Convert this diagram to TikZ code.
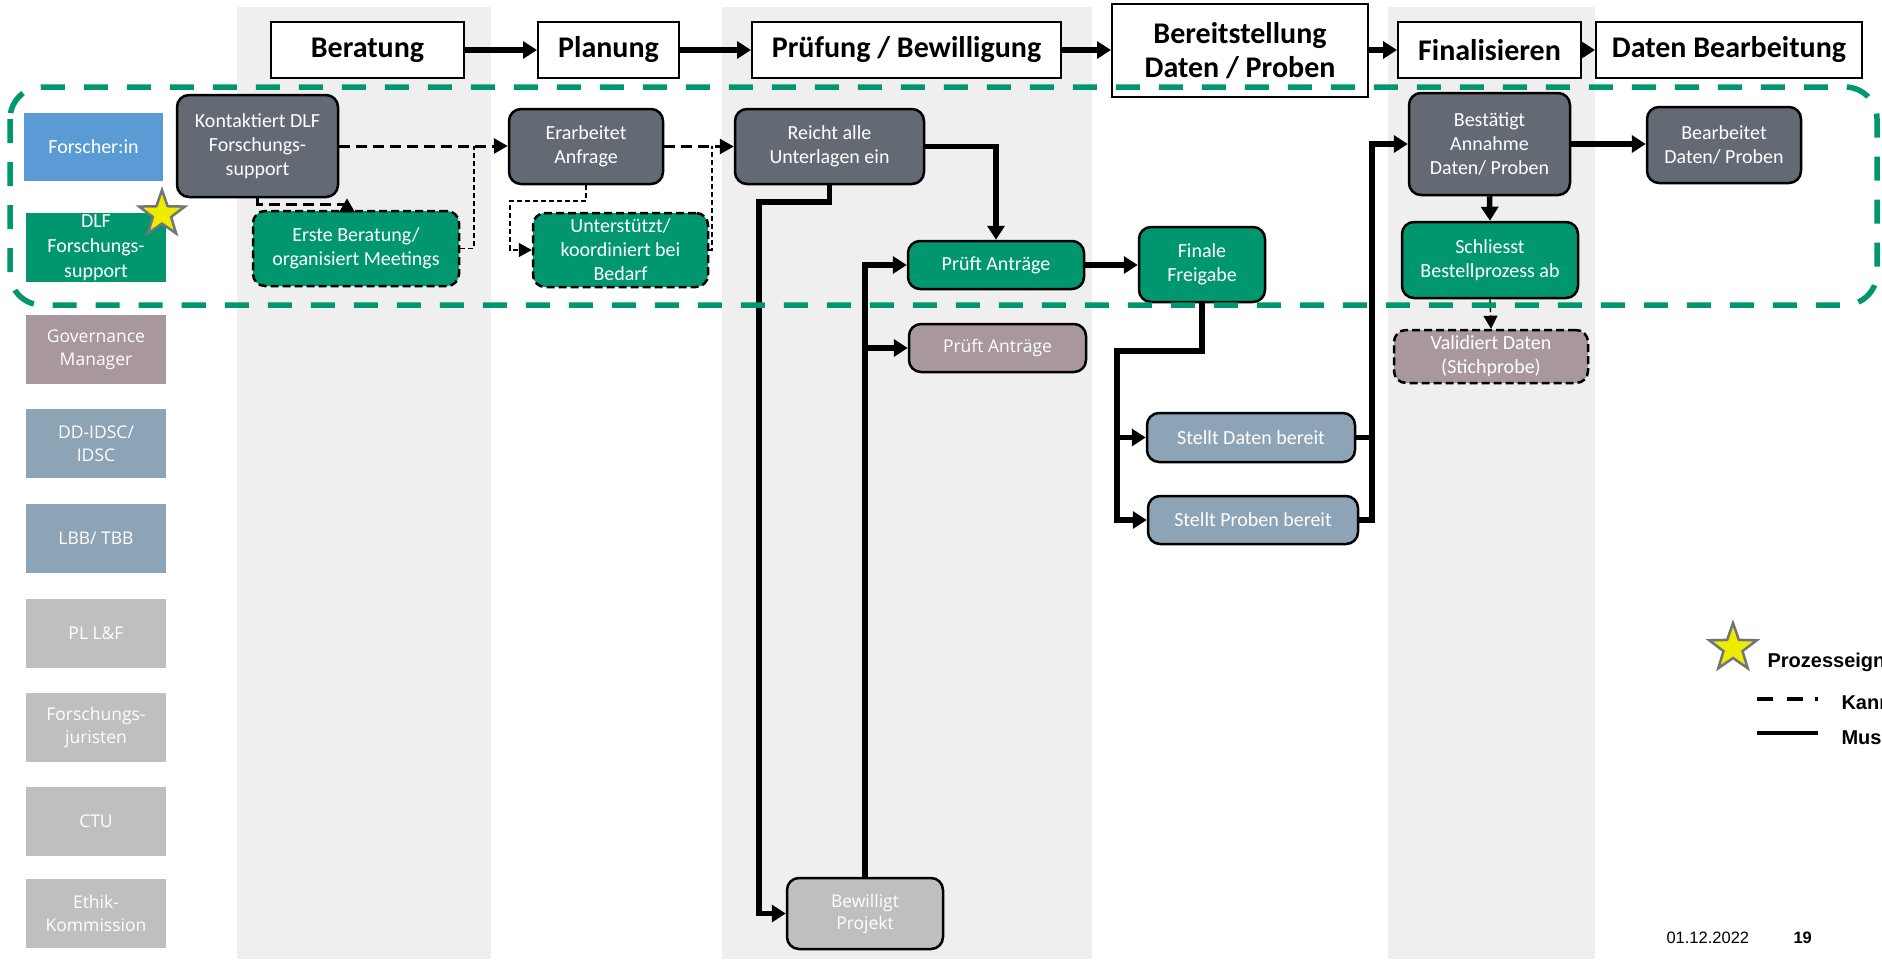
\documentclass[tikz,border=0pt]{standalone}
\usepackage{fontspec}
\setmainfont{Carlito}
\newfontfamily\osans{Open Sans}
\newfontfamily\arialf{Liberation Sans}
\usetikzlibrary{arrows.meta,shapes.geometric,calc}
\definecolor{dkbox}{HTML}{646A73}
\definecolor{dlfgreen}{HTML}{00966E}
\definecolor{mauve}{HTML}{A8979F}
\definecolor{bluegray}{HTML}{8DA3B6}
\definecolor{ltgray}{HTML}{BFBFBF}
\definecolor{fblue}{HTML}{5B9BD5}
\definecolor{colgray}{HTML}{EFEFEF}
\definecolor{staryellow}{HTML}{EEEA00}
\definecolor{starborder}{HTML}{6E757C}
\begin{document}
\begin{tikzpicture}[x=1pt,y=-1pt,
  proc/.style={draw=black, line width=2.5pt, rounded corners=12pt, text=white, align=center, inner sep=0pt, font=\fontsize{20}{24}\selectfont},
  procos/.style={proc, font=\osans\fontsize{17.5}{22}\selectfont},
  dashbox/.style={dash pattern=on 8pt off 4pt},
  lane/.style={inner sep=0pt, text=white, align=center, minimum width=140pt, minimum height=69pt, font=\osans\fontsize{17.5}{23}\selectfont},
  lanecal/.style={lane, font=\fontsize{20}{25}\selectfont},
  hdr/.style={draw=black, line width=2pt, fill=white, align=center, inner sep=0pt, font=\bfseries\fontsize{30}{34}\selectfont},
  must/.style={line width=5.5pt, -{Triangle[length=14pt,width=17pt]}},
  mustline/.style={line width=5.5pt},
  kann/.style={line width=3pt, dash pattern=on 11pt off 6pt, -{Triangle[length=14pt,width=15pt]}},
  thindash/.style={line width=1.3pt, dash pattern=on 5pt off 3pt},
  thinarrow/.style={thindash, -{Triangle[length=13pt,width=14pt]}},
  starnode/.style={star, star points=5, star point ratio=2.5, inner sep=0pt, fill=staryellow, draw=starborder, line width=2.5pt},
  legtext/.style={anchor=base west, font=\arialf\bfseries\fontsize{20}{24}\selectfont}
]
\useasboundingbox (0,0) rectangle (1882,959);
\clip (0,0) rectangle (1882,959);
\fill[white] (0,0) rectangle (1882,959);
% phase columns
\fill[colgray] (237,7) rectangle (491,959);
\fill[colgray] (722,7) rectangle (1092,959);
\fill[colgray] (1388,7) rectangle (1595,959);

% lanes
\node[lanecal, fill=fblue, minimum width=139pt, minimum height=68pt] (lForsch) at (93.5,147) {Forscher:in};
\node[lanecal, fill=dlfgreen] (lDLF) at (96,247.5) {DLF\\Forschungs-\\support};
\node[lane, fill=mauve] (lGov) at (96,349.5) {Governance\\Manager};
\node[lane, fill=bluegray] (lDD) at (96,443.5) {DD-IDSC/\\IDSC};
\node[lane, fill=bluegray] (lLBB) at (96,538.5) {LBB/ TBB};
\node[lane, fill=ltgray] (lPL) at (96,633.5) {PL L\&F};
\node[lane, fill=ltgray] (lFJ) at (96,727) {Forschungs-\\juristen};
\node[lane, fill=ltgray] (lCTU) at (96,821) {CTU};
\node[lane, fill=ltgray] (lEthik) at (96,913.5) {Ethik-\\Kommission};
\node[starnode, minimum size=48pt] (star1) at (162,214) {};

% headers
\node[hdr, minimum width=193pt, minimum height=56pt] (hBer) at (367.5,50) {Beratung};
\node[hdr, minimum width=141pt, minimum height=56pt] (hPlan) at (608.5,50) {Planung};
\node[hdr, minimum width=309pt, minimum height=56pt] (hPruef) at (906.5,50) {Prüfung / Bewilligung};
\node[hdr, minimum width=256pt, minimum height=93pt] (hBereit) at (1240,50.5) {Bereitstellung\\Daten / Proben};
\node[hdr, minimum width=183pt, minimum height=56pt] (hFinal) at (1489.5,50) {Finalisieren};
\node[hdr, minimum width=266pt, minimum height=56pt] (hDaten) at (1729,50) {Daten Bearbeitung};

\draw[must] (hBer.east) -- (hPlan.west);
\draw[must] (hPlan.east) -- (hPruef.west);
\draw[must] (hPruef.east) -- (hPruef.east -| hBereit.west);
\draw[must] (hBereit.east |- hFinal.west) -- (hFinal.west);
\draw[must] (hFinal.east) -- (hDaten.west);

% process boxes
\node[proc, fill=dkbox, minimum width=161pt, minimum height=102pt] (kont) at (257.5,146) {Kontaktiert DLF\\Forschungs-\\support};
\node[proc, dashbox, fill=dlfgreen, minimum width=206pt, minimum height=75pt] (erste) at (356,248.5) {Erste Beratung/\\organisiert Meetings};
\node[proc, fill=dkbox, minimum width=154pt, minimum height=75pt] (erarb) at (586,146.5) {Erarbeitet\\Anfrage};
\node[proc, dashbox, fill=dlfgreen, minimum width=175pt, minimum height=74pt] (unterst) at (620.5,250) {Unterstützt/\\koordiniert bei\\Bedarf};
\node[proc, fill=dkbox, minimum width=189pt, minimum height=75pt] (reicht) at (829.5,146.5) {Reicht alle\\Unterlagen ein};
\node[proc, fill=dlfgreen, minimum width=176pt, minimum height=48pt] (pruefG) at (996,265) {Prüft Anträge};
\node[proc, fill=dlfgreen, minimum width=126pt, minimum height=75pt] (finale) at (1202,264.5) {Finale\\Freigabe};
\node[procos, fill=mauve, minimum width=177pt, minimum height=48pt] (pruefM) at (997.5,348) {Prüft Anträge};
\node[procos, fill=ltgray, minimum width=156pt, minimum height=71pt] (bewill) at (865,913.5) {Bewilligt\\Projekt};
\node[proc, fill=bluegray, minimum width=208pt, minimum height=49pt] (stD) at (1251,437.5) {Stellt Daten bereit};
\node[proc, fill=bluegray, minimum width=210pt, minimum height=48pt] (stP) at (1253,520) {Stellt Proben bereit};
\node[proc, fill=dkbox, minimum width=161pt, minimum height=102pt] (best) at (1489.5,144) {Bestätigt\\Annahme\\Daten/ Proben};
\node[proc, fill=dkbox, minimum width=154pt, minimum height=76pt] (bearb) at (1724,145) {Bearbeitet\\Daten/ Proben};
\node[proc, fill=dlfgreen, minimum width=176pt, minimum height=76pt] (schl) at (1490,260) {Schliesst\\Bestellprozess ab};
\node[proc, dashbox, fill=mauve, minimum width=194pt, minimum height=53pt] (valid) at (1491,356.5) {Validiert Daten\\(Stichprobe)};

% optional (dashed) connectors
\draw[kann] (kont.east) -- (kont.east -| erarb.west);
\draw[kann] (erarb.east) -- (erarb.east -| reicht.west);
\coordinate (k1) at (347,204);
\draw[kann] (kont.south) |- (k1) -- (k1 |- kont.south);
\coordinate (c1) at (474,146);
\draw[thindash] (erste.east) -| (c1);
\coordinate (e1) at (510,201);
\draw[thinarrow] (erarb.south) |- (e1) |- (unterst.west);
\coordinate (c2) at (712,146);
\draw[thindash] (unterst.east) -| (c2);
\draw[thinarrow] (schl.south) -- (valid.north);

% mandatory connectors
\draw[must] (reicht.east) -| (pruefG.north);
\coordinate (r1) at (759,202);
\draw[must] (reicht.south) |- (r1) |- (bewill.west);
\draw[must] (bewill.north) |- (pruefG.west);
\draw[must] (bewill.north |- pruefM.west) -- (pruefM.west);
\draw[must] (pruefG.east) -- (pruefG.east -| finale.west);
\coordinate (f1) at (1117,351);
\draw[must] (finale.south) |- (f1) |- (stP.west);
\draw[must] (f1 |- stD.west) -- (stD.west);
\coordinate (b1) at (1372,144);
\draw[must] (stP.east) -| (b1) -- (best.west);
\draw[mustline] (stD.east) -- (stD.east -| b1);
\draw[must] (best.east) -- (best.east -| bearb.west);
\draw[must] (best.south) -- (schl.north);

% DLF research support frame
\draw[dlfgreen, line width=5.5pt, dash pattern=on 24pt off 19pt, rounded corners=32pt] (10,87) rectangle (1877,305);

% legend
\node[starnode, minimum size=50pt] (star2) at (1733,648) {};
\node[legtext] (legP) at (1764,667) {Prozesseign};
\coordinate (lk1) at (1757,699);
\coordinate (lk2) at (1818,699);
\draw[line width=4pt, dash pattern=on 16pt off 14pt on 16pt off 12pt on 3pt off 20pt] (lk1) -- (lk2);
\node[legtext] (legK) at (1838,709) {Kann};
\coordinate (lm1) at (1757,733);
\coordinate (lm2) at (1818,733);
\draw[line width=4pt] (lm1) -- (lm2);
\node[legtext] (legM) at (1838,744) {Muss};
\node[anchor=base west, font=\arialf\fontsize{16.5}{20}\selectfont] (date) at (1663,943) {01.12.2022};
\node[anchor=base west, font=\arialf\bfseries\fontsize{16.5}{20}\selectfont] (page) at (1790,943) {19};
\end{tikzpicture}
\end{document}
